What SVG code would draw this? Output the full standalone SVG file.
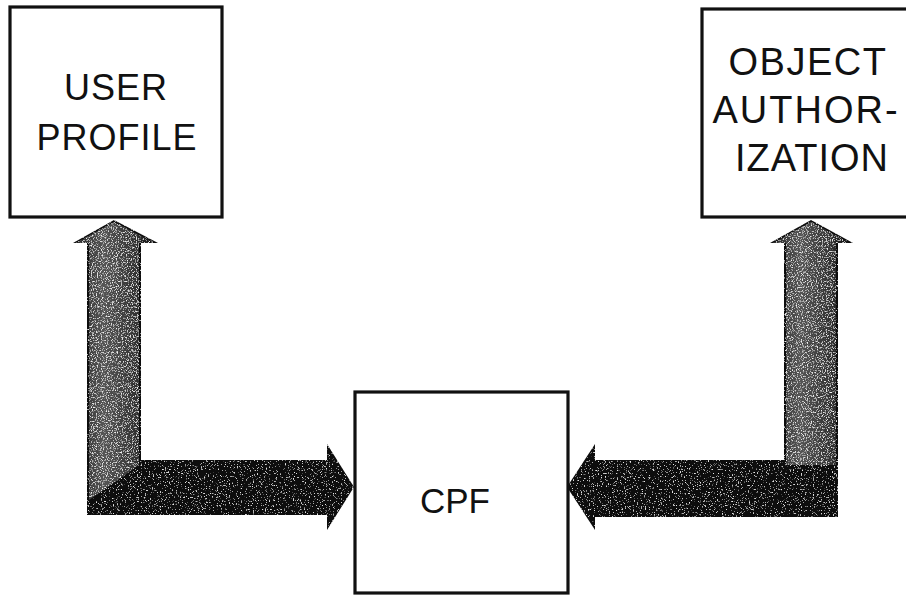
<svg xmlns="http://www.w3.org/2000/svg" width="906" height="596" viewBox="0 0 906 596">
  <style>
    .box { fill: #fff; stroke: #111; stroke-width: 3.2; }
    .lbl { font-family: "Liberation Sans", Arial, sans-serif; fill: #111; text-anchor: middle; }
    .arrow { fill: #0e0e0e; }
  </style>
  <defs>
    <filter id="grain" x="0" y="0" width="100%" height="100%">
      <feTurbulence type="fractalNoise" baseFrequency="0.75" numOctaves="2" seed="4" result="n"/>
      <feColorMatrix in="n" type="matrix" values="0 0 0 0 0.8  0 0 0 0 0.8  0 0 0 0 0.8  6 0 0 0 -3.7" result="w"/>
      <feComposite in="w" in2="SourceGraphic" operator="in" result="ws"/>
      <feMerge><feMergeNode in="SourceGraphic"/><feMergeNode in="ws"/></feMerge>
    </filter>
    <filter id="grainLight" x="0" y="0" width="100%" height="100%">
      <feTurbulence type="fractalNoise" baseFrequency="0.8" numOctaves="2" seed="9" result="n"/>
      <feColorMatrix in="n" type="matrix" values="0 0 0 0 0.9  0 0 0 0 0.9  0 0 0 0 0.9  4 0 0 0 -2.1" result="w"/>
      <feComposite in="w" in2="SourceGraphic" operator="in" result="ws"/>
      <feMerge><feMergeNode in="SourceGraphic"/><feMergeNode in="ws"/></feMerge>
    </filter>
    <linearGradient id="vg" x1="0" y1="0" x2="1" y2="0">
      <stop offset="0" stop-color="#2a2a2a"/>
      <stop offset="0.35" stop-color="#555"/>
      <stop offset="0.75" stop-color="#333"/>
      <stop offset="1" stop-color="#0e0e0e"/>
    </linearGradient>
  </defs>
  <rect width="906" height="596" fill="#fff"/>

  <g id="connectors">
    <g id="arrow-left">
      <path class="arrow" filter="url(#grain)" d="M114,220 L158,243 L141,243 L141,460 L327,460 L327,444 L354,487 L327,530 L327,515 L87,515 L87,243 L73,243 Z"/>
      <path fill="url(#vg)" filter="url(#grainLight)" d="M114,222 L155,243 L139,243 L139,465 L89,500 L89,243 L76,243 Z"/>
    </g>
    <g id="arrow-right">
      <path class="arrow" filter="url(#grain)" d="M811,220 L853,243 L838,243 L838,517 L595,517 L595,530 L567,487 L595,444 L595,460 L784,460 L784,243 L770,243 Z"/>
      <path fill="url(#vg)" filter="url(#grainLight)" d="M811,222 L850,243 L836,243 L836,465 L786,465 L786,243 L773,243 Z"/>
    </g>
  </g>

  <g id="user-profile">
    <rect class="box" x="10" y="7" width="212" height="210"/>
    <text class="lbl" x="116" y="100" font-size="36" letter-spacing="1">USER</text>
    <text class="lbl" x="117" y="150" font-size="36" letter-spacing="1">PROFILE</text>
  </g>

  <g id="object-authorization">
    <rect class="box" x="702" y="9" width="215" height="208"/>
    <text class="lbl" x="808" y="75" font-size="38" letter-spacing="1.5">OBJECT</text>
    <text class="lbl" x="806" y="123" font-size="38" letter-spacing="2">AUTHOR-</text>
    <text class="lbl" x="812" y="171" font-size="38" letter-spacing="1">IZATION</text>
  </g>

  <g id="cpf">
    <rect class="box" x="355" y="392" width="213" height="201"/>
    <text class="lbl" x="455" y="513" font-size="35">CPF</text>
  </g>
</svg>
